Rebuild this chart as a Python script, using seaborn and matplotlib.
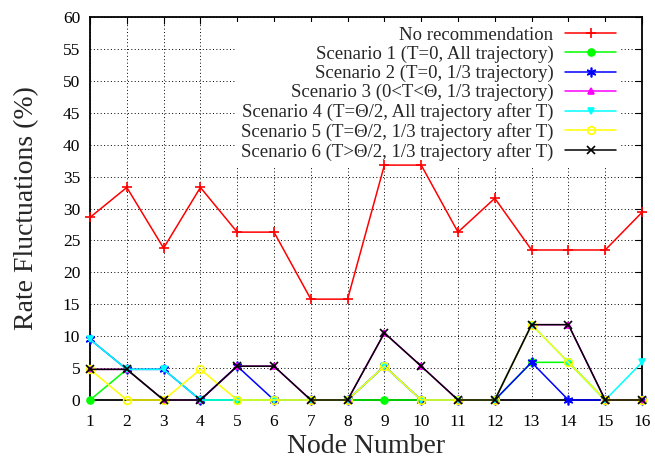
import matplotlib
matplotlib.use("Agg")
import matplotlib.pyplot as plt
import seaborn as sns
import numpy as np
import pandas as pd

nodes = list(range(1, 17))
no_rec = [28.6, 33.3, 23.8, 33.3, 26.3, 26.3, 15.8, 15.8, 36.8, 36.8, 26.3, 31.6, 23.5, 23.5, 23.5, 29.4]
scen1 = [0, 4.8, 0, 0, 0, 0, 0, 0, 0, 0, 0, 0, 5.9, 5.9, 0, 0]
scen2 = [9.5, 4.8, 4.8, 0, 5.3, 0, 0, 0, 5.3, 0, 0, 0, 5.9, 0, 0, 0]
scen3 = [4.8, 4.8, 0, 0, 5.3, 5.3, 0, 0, 10.5, 5.3, 0, 0, 11.8, 11.8, 0, 0]
scen4 = [9.5, 4.8, 4.8, 0, 0, 0, 0, 0, 5.3, 0, 0, 0, 11.8, 5.9, 0, 5.9]
scen5 = [4.8, 0, 0, 4.8, 0, 0, 0, 0, 5.3, 0, 0, 0, 11.8, 5.9, 0, 0]
scen6 = [4.8, 4.8, 0, 0, 5.3, 5.3, 0, 0, 10.5, 5.3, 0, 0, 11.8, 11.8, 0, 0]

labels = [
    "No recommendation",
    "Scenario 1 (T=0, All trajectory)",
    "Scenario 2 (T=0, 1/3 trajectory)",
    "Scenario 3 (0<T<\u0398, 1/3 trajectory)",
    "Scenario 4 (T=\u0398/2, All trajectory after T)",
    "Scenario 5 (T=\u0398/2, 1/3 trajectory after T)",
    "Scenario 6 (T>\u0398/2, 1/3 trajectory after T)",
]
series = [no_rec, scen1, scen2, scen3, scen4, scen5, scen6]
colors = ["#ff0000", "#00ff00", "#0000ff", "#ff00ff", "#00ffff", "#ffff00", "#000000"]
markers = ["+", "o", (6, 2, 0), "^", "v", "o", "x"]
filled = [True, True, True, True, True, False, True]
msizes = [7, 5, 7, 5, 5, 5.5, 6]

sns.set_style("white")
plt.rcParams["font.family"] = ["Liberation Serif", "DejaVu Serif"]

fig = plt.figure(figsize=(6.55, 4.59), dpi=100)
ax = fig.add_axes([90 / 655, 1 - 400 / 459, (642 - 90) / 655, (400 - 17) / 459])

for lab, vals, c, m, f, ms in zip(labels, series, colors, markers, filled, msizes):
    df = pd.DataFrame({"node": nodes, "val": vals})
    sns.lineplot(data=df, x="node", y="val", ax=ax, color=c, marker=m,
                 markersize=ms, markeredgecolor=c,
                 markerfacecolor=(c if f else "none"),
                 markeredgewidth=1.2, linewidth=1.1, label=lab,
                 clip_on=False, zorder=7)

ax.set_xlim(1, 16)
ax.set_ylim(0, 60)
ax.set_xticks(nodes)
ax.set_yticks(np.arange(0, 61, 5))
ax.tick_params(axis="both", direction="in", top=True, right=True,
               labelsize=12.5, length=5, width=0.8, colors="black")
ax.tick_params(axis="x", pad=10)
ax.tick_params(axis="y", pad=7)
ax.grid(True, linestyle=(0, (1, 2.5)), color="black", linewidth=0.7)
for s in ax.spines.values():
    s.set_color("black")
    s.set_linewidth(1.3)
    s.set_zorder(6)

ax.set_xlabel("Node Number", fontsize=20, labelpad=3)
ax.set_ylabel("Rate Fluctuations (%)", fontsize=20, labelpad=17)

leg = ax.legend(loc="upper right", bbox_to_anchor=(0.962, 1 - 5 / 383),
                frameon=True, facecolor="white", edgecolor="none", framealpha=1,
                fancybox=False, markerfirst=False, fontsize=13.5,
                handlelength=2.75, handletextpad=0.6, labelspacing=0.1,
                borderpad=0.25, borderaxespad=0)
leg.set_zorder(5)

fig.savefig("out.png", dpi=100)
